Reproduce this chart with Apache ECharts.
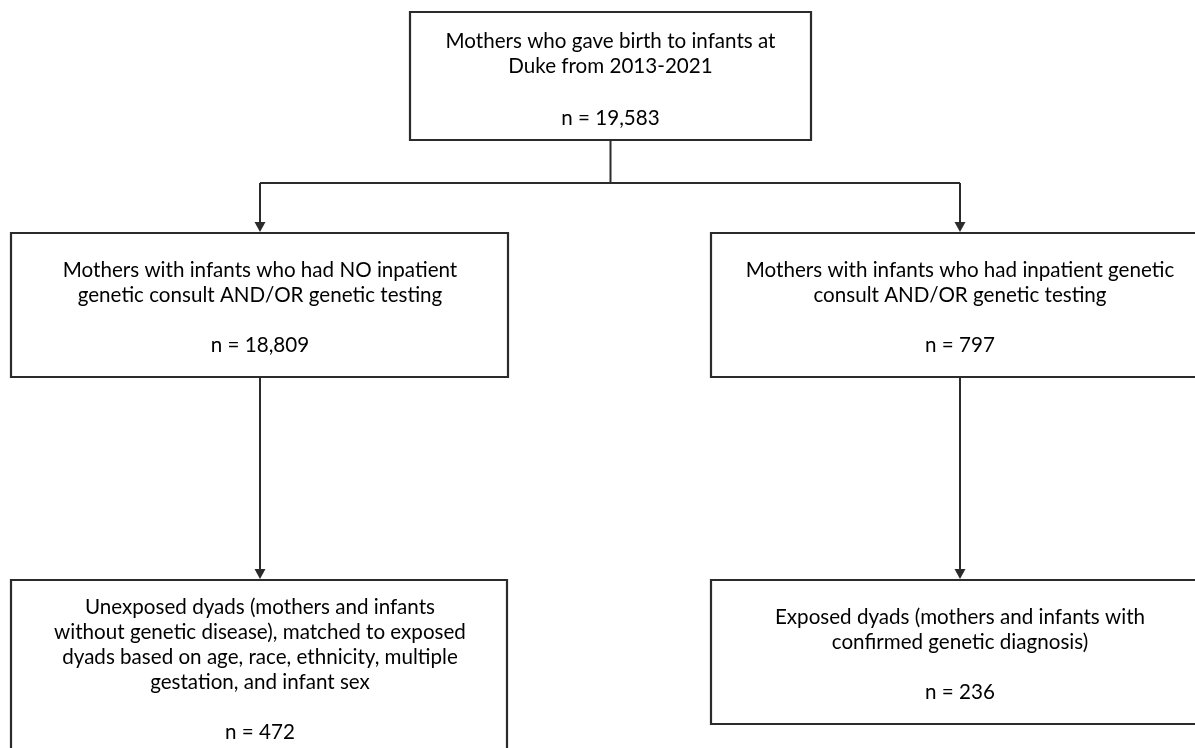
<!DOCTYPE html>
<html>
<head>
<meta charset="utf-8">
<script src="https://cdn.jsdelivr.net/npm/echarts@6/dist/echarts.min.js"></script>
<style>
html,body{margin:0;padding:0;background:#fff;}
#chart{width:1195px;height:748px;}
</style>
</head>
<body>
<div id="chart"></div>
<script>
// ---- data ----
const boxTitles = [
  ['Mothers who gave birth to infants at', 'Duke from 2013-2021'],
  ['Mothers with infants who had NO inpatient', 'genetic consult AND/OR genetic testing'],
  ['Mothers with infants who had inpatient genetic', 'consult AND/OR genetic testing'],
  ['Unexposed dyads (mothers and infants', 'without genetic disease), matched to exposed', 'dyads based on age, race, ethnicity, multiple', 'gestation, and infant sex'],
  ['Exposed dyads (mothers and infants with', 'confirmed genetic diagnosis)']
];
const boxCounts = [19583, 18809, 797, 472, 236];
// flow edges: from box index -> to box index
const flowEdges = [[0, 1], [0, 2], [1, 3], [2, 4]];

// ---- layout (pixel space of the hidden axes) ----
const boxRects = [
  [410, 12, 811, 140],
  [11, 233, 508, 377],
  [711, 233, 1209, 377],
  [11, 580, 507, 770],
  [711, 580, 1209, 724]
];
const textLineY = [
  [41, 66, 118],
  [270, 295, 345],
  [270, 295, 345],
  [607, 632, 657, 682, 732],
  [617, 642, 692]
];
const textCenterX = [610.5, 260, 960, 260, 960];
const splitY = 183;

// build items
const boxData = boxRects.map(r => r.slice());
const textData = [];
boxTitles.forEach((lines, i) => {
  const all = lines.concat(['n = ' + boxCounts[i].toLocaleString('en-US')]);
  all.forEach((t, j) => textData.push([textCenterX[i], textLineY[i][j], t]));
});
// connectors as polylines
const connectors = [];
connectors.push({pts: [[610.5, boxRects[0][3]], [610.5, splitY]], arrow: false});
connectors.push({pts: [[textCenterX[1], splitY], [textCenterX[2], splitY]], arrow: false});
flowEdges.forEach(([a, b]) => {
  if (a === 0) {
    connectors.push({pts: [[textCenterX[b], splitY], [textCenterX[b], boxRects[b][1]]], arrow: true});
  } else {
    connectors.push({pts: [[textCenterX[b], boxRects[a][3]], [textCenterX[b], boxRects[b][1]]], arrow: true});
  }
});

const chart = echarts.init(document.getElementById('chart'), null, {renderer: 'canvas'});
const lineColor = '#2b2b2b';
chart.setOption({
  animation: false,
  backgroundColor: '#ffffff',
  grid: {left: 0, right: 0, top: 0, bottom: 0},
  xAxis: {type: 'value', min: 0, max: 1195, show: false},
  yAxis: {type: 'value', min: 0, max: 748, inverse: true, show: false},
  series: [
    {
      type: 'custom',
      coordinateSystem: 'cartesian2d',
      data: boxData,
      renderItem: function (params, api) {
        const p1 = api.coord([api.value(0), api.value(1)]);
        const p2 = api.coord([api.value(2), api.value(3)]);
        return {
          type: 'rect',
          shape: {x: p1[0], y: p1[1], width: p2[0] - p1[0], height: p2[1] - p1[1]},
          style: {fill: '#ffffff', stroke: lineColor, lineWidth: 2.2}
        };
      },
      z: 2
    },
    {
      type: 'custom',
      coordinateSystem: 'cartesian2d',
      data: connectors.map((c, i) => [i]),
      renderItem: function (params, api) {
        const c = connectors[params.dataIndex];
        const pts = c.pts.map(p => api.coord(p));
        const children = [{
          type: 'polyline',
          shape: {points: c.arrow ? [pts[0], [pts[1][0], pts[1][1] - 6]] : pts},
          style: {stroke: lineColor, lineWidth: 2, fill: null}
        }];
        if (c.arrow) {
          const e = pts[pts.length - 1];
          children.push({
            type: 'polygon',
            shape: {points: [[e[0] - 5.5, e[1] - 11], [e[0] + 5.5, e[1] - 11], [e[0], e[1] - 1]]},
            style: {fill: lineColor}
          });
        }
        return {type: 'group', children: children};
      },
      z: 3
    },
    {
      type: 'custom',
      coordinateSystem: 'cartesian2d',
      data: textData,
      renderItem: function (params, api) {
        const p = api.coord([api.value(0), api.value(1)]);
        return {
          type: 'text',
          x: p[0], y: p[1],
          style: {
            text: textData[params.dataIndex][2],
            fill: '#000000',
            font: '20.6px Lato',
            align: 'center',
            verticalAlign: 'middle'
          }
        };
      },
      z: 4
    }
  ]
});
</script>
</body>
</html>
